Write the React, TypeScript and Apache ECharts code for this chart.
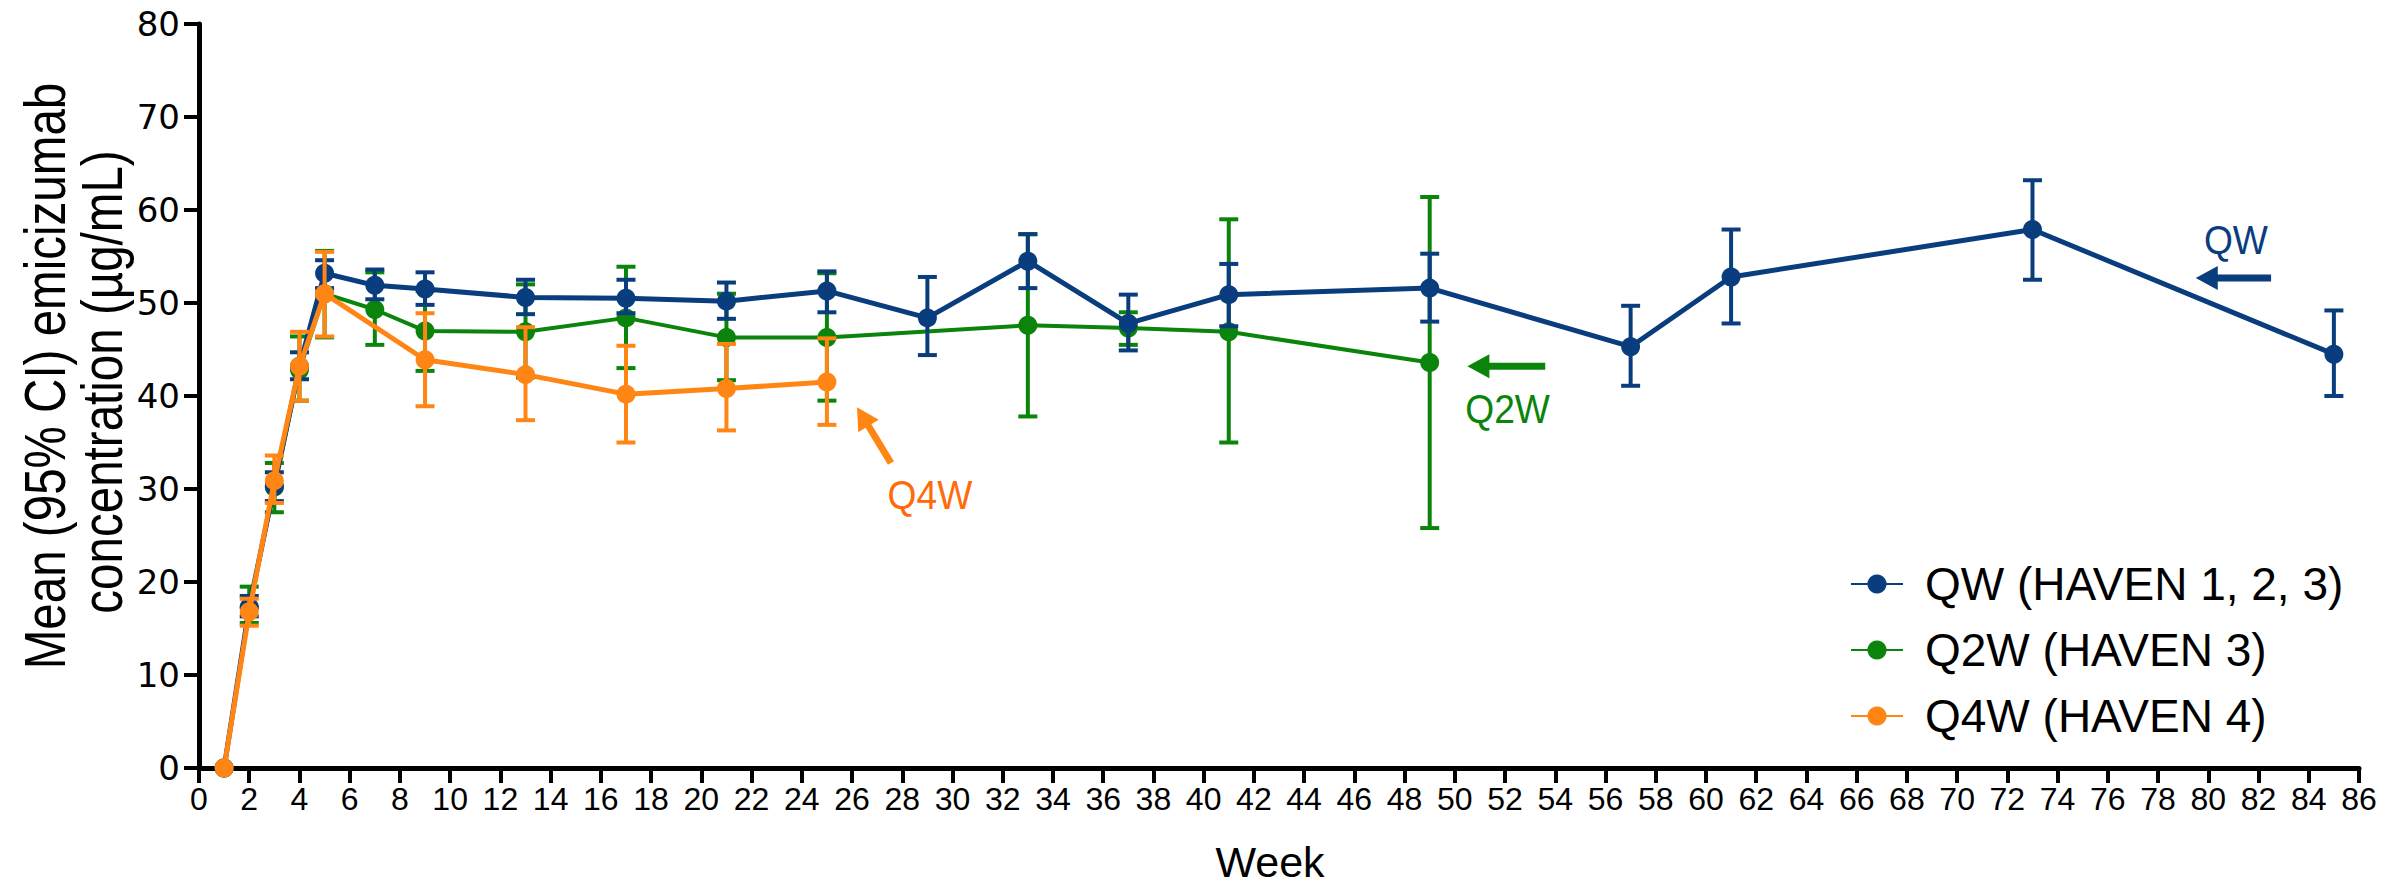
import React, { useEffect, useRef } from "react";
import * as echarts from "echarts";

// ---- data ----
const weeksQW = [1, 2, 3, 4, 5, 7, 9, 13, 17, 21, 25, 29, 33, 37, 41, 49, 57, 61, 73, 85];
const meanQW = [0, 17.3, 30.3, 43.2, 53.2, 51.9, 51.5, 50.6, 50.5, 50.2, 51.3, 48.4, 54.5, 47.8, 50.9, 51.6, 45.3, 52.8, 57.9, 44.5];
const lowQW = [null, 16.3, 28.7, 41.8, 51.6, 50.4, 49.8, 48.8, 48.9, 48.3, 49.0, 44.4, 51.6, 44.9, 47.5, 48.0, 41.1, 47.8, 52.5, 40.0];
const highQW = [null, 18.5, 31.8, 44.7, 54.6, 53.6, 53.3, 52.5, 52.5, 52.2, 53.4, 52.8, 57.4, 50.9, 54.2, 55.3, 49.7, 57.9, 63.2, 49.2];

const weeksQ2W = [1, 2, 3, 4, 5, 7, 9, 13, 17, 21, 25, 33, 37, 41, 49];
const meanQ2W = [0, 17.2, 30.2, 42.8, 51.0, 49.3, 47.0, 46.9, 48.4, 46.3, 46.3, 47.6, 47.3, 46.9, 43.6];
const lowQ2W = [null, 15.6, 27.5, 39.5, 46.3, 45.5, 42.7, 42.0, 43.0, 41.7, 39.5, 37.8, 45.5, 35.0, 25.8];
const highQ2W = [null, 19.5, 32.8, 46.4, 55.6, 53.3, 51.3, 52.0, 53.9, 51.0, 53.2, 57.4, 49.0, 59.0, 61.4];

const weeksQ4W = [1, 2, 3, 4, 5, 9, 13, 17, 21, 25];
const meanQ4W = [0, 16.8, 30.9, 43.2, 51.0, 43.9, 42.3, 40.2, 40.8, 41.5];
const lowQ4W = [null, 15.3, 28.5, 39.5, 46.4, 38.9, 37.4, 35.0, 36.3, 36.9];
const highQ4W = [null, 18.2, 33.6, 46.9, 55.5, 48.9, 47.4, 45.4, 45.6, 46.2];

const seriesNames = ["QW (HAVEN 1, 2, 3)", "Q2W (HAVEN 3)", "Q4W (HAVEN 4)"];
const xTicks = { min: 0, max: 86, interval: 2 };
const yTicks = { min: 0, max: 80, interval: 10 };
const yTitle = ["Mean (95% CI) emicizumab", "concentration (µg/mL)"];
const xTitle = "Week";

// annotation anchors in data coordinates
const annQW = { text: "QW", textAt: [81.1, 56.8], tip: [79.5, 52.7], tail: [82.5, 52.7] };
const annQ2W = { text: "Q2W", textAt: [52.1, 38.6], tip: [50.5, 43.2], tail: [53.6, 43.2] };
const annQ4W = { text: "Q4W", textAt: [29.1, 29.4], tip: [26.2, 38.8], tail: [27.55, 32.8] };

const C_QW = "#0a3d7d";
const C_Q2W = "#0b840b";
const C_Q4W = "#ff8614";
const C_Q4W_TEXT = "#ff6a0a";

const FONT = "'Liberation Sans', Arial, Helvetica, sans-serif";

function pts(weeks: number[], vals: number[]) {
  return weeks.map((w, i) => [w, vals[i]]);
}
function errs(weeks: number[], lo: (number | null)[], hi: (number | null)[]) {
  const out: number[][] = [];
  weeks.forEach((w, i) => {
    if (lo[i] != null && hi[i] != null) out.push([w, lo[i] as number, hi[i] as number]);
  });
  return out;
}

const errRender = (color: string, lw: number) => (params: any, api: any) => {
  const x = api.value(0);
  const a = api.coord([x, api.value(2)]);
  const b = api.coord([x, api.value(1)]);
  const hw = 9.5;
  const style = { stroke: color, lineWidth: lw, fill: null };
  return {
    type: "group",
    children: [
      { type: "line", shape: { x1: a[0], y1: a[1], x2: b[0], y2: b[1] }, style },
      { type: "line", shape: { x1: a[0] - hw, y1: a[1], x2: a[0] + hw, y2: a[1] }, style },
      { type: "line", shape: { x1: b[0] - hw, y1: b[1], x2: b[0] + hw, y2: b[1] }, style },
    ],
  };
};

function lineSeries(name: string, data: number[][], color: string, width: number, z: number) {
  return {
    name,
    type: "line",
    data,
    z,
    symbol: "circle",
    symbolSize: 19,
    itemStyle: { color },
    lineStyle: { color, width },
    emphasis: { disabled: true },
  };
}
function errSeries(name: string, data: number[][], color: string, z: number) {
  return {
    name,
    type: "custom",
    data,
    z,
    encode: { x: 0, y: [1, 2] },
    renderItem: errRender(color, 4),
  };
}

export default function App() {
  const ref = useRef<HTMLDivElement>(null);
  useEffect(() => {
    document.body.style.margin = "0";
    document.body.style.overflow = "hidden";
    const chart = echarts.init(ref.current!, undefined, { renderer: "svg" });
    const axisCommon = {
      axisLine: { show: true, lineStyle: { color: "#000", width: 5 } },
      axisTick: { show: true, length: 15, lineStyle: { color: "#000", width: 4 } },
      splitLine: { show: false },
    };
    chart.setOption({
      animation: false,
      backgroundColor: "#fff",
      grid: { left: 199, right: 36, top: 24, bottom: 118, containLabel: false },
      xAxis: {
        type: "value",
        min: xTicks.min,
        max: xTicks.max,
        interval: xTicks.interval,
        ...axisCommon,
        axisLabel: { color: "#000", fontSize: 32, fontFamily: FONT, margin: 15 },
      },
      yAxis: {
        type: "value",
        min: yTicks.min,
        max: yTicks.max,
        interval: yTicks.interval,
        ...axisCommon,
        axisLabel: { color: "#000", fontSize: 34, fontFamily: "'DejaVu Sans', sans-serif", margin: 19 },
      },
      legend: {
        data: seriesNames,
        orient: "vertical",
        left: 1845,
        top: 554,
        itemWidth: 52,
        itemHeight: 24,
        itemGap: 16,
        selectedMode: false,
        textStyle: { fontSize: 46, fontFamily: FONT, color: "#000", lineHeight: 50, padding: [0, 0, 0, 17] },
      },
      series: [
        errSeries("errQ2W", errs(weeksQ2W, lowQ2W, highQ2W), C_Q2W, 2),
        lineSeries(seriesNames[1], pts(weeksQ2W, meanQ2W), C_Q2W, 4, 3),
        errSeries("errQW", errs(weeksQW, lowQW, highQW), C_QW, 4),
        lineSeries(seriesNames[0], pts(weeksQW, meanQW), C_QW, 5, 5),
        errSeries("errQ4W", errs(weeksQ4W, lowQ4W, highQ4W), C_Q4W, 6),
        lineSeries(seriesNames[2], pts(weeksQ4W, meanQ4W), C_Q4W, 5, 7),
      ],
    });

    const px = (p: number[]) => chart.convertToPixel({ gridIndex: 0 }, p) as number[];
    const textStyle = (text: string, size: number, fill: string) => ({
      text, fill, fontSize: size, fontFamily: FONT,
      textAlign: "center", textVerticalAlign: "middle", align: "center", verticalAlign: "middle",
    });
    const arrow = (ann: any, color: string, textColor: string) => {
      const tip = px(ann.tip);
      const tail = px(ann.tail);
      const t = px(ann.textAt);
      const dx = tip[0] - tail[0];
      const dy = tip[1] - tail[1];
      const len = Math.hypot(dx, dy);
      const ux = dx / len, uy = dy / len;
      const headL = 22, headW = 12;
      const bx = tip[0] - ux * headL, by = tip[1] - uy * headL;
      const nx = -uy, ny = ux;
      return [
        {
          type: "line",
          shape: { x1: tail[0], y1: tail[1], x2: bx + ux * 2, y2: by + uy * 2 },
          style: { stroke: color, lineWidth: 7 },
        },
        {
          type: "polygon",
          shape: { points: [[tip[0], tip[1]], [bx + nx * headW, by + ny * headW], [bx - nx * headW, by - ny * headW]] },
          style: { fill: color },
        },
        { type: "text", x: t[0], y: t[1], scaleX: 0.93, style: textStyle(ann.text, 40, textColor) },
      ];
    };
    chart.setOption({
      graphic: [
        ...arrow(annQW, C_QW, C_QW),
        ...arrow(annQ2W, C_Q2W, C_Q2W),
        ...arrow(annQ4W, C_Q4W, C_Q4W_TEXT),
        { type: "text", x: 45, y: 376, rotation: Math.PI / 2, scaleX: 0.82, style: textStyle(yTitle[0], 58, "#000") },
        { type: "text", x: 102, y: 382, rotation: Math.PI / 2, scaleX: 0.82, style: textStyle(yTitle[1], 58, "#000") },
        { type: "text", x: 1270, y: 862, style: textStyle(xTitle, 43, "#000") },
      ],
    });
    return () => chart.dispose();
  }, []);
  return <div ref={ref} style={{ width: 2395, height: 886 }} />;
}
